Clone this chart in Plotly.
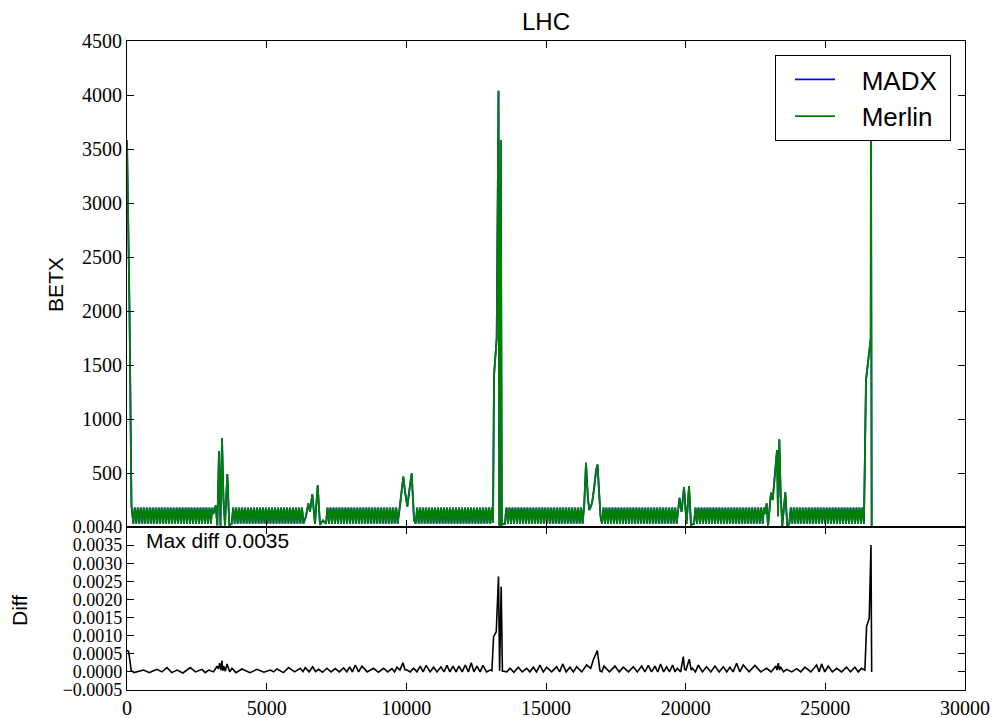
import plotly.graph_objects as go
from plotly.subplots import make_subplots

# ---------------- data ----------------
# FODO arc cell: betx values sampled at quarter-cell positions (QD, mid, QF, mid)
cell_length = 106.9
arc_cell_betx = [30, 120, 180, 120]
# arc extents (s start, s end) in metres
arc_starts = [226, 3748, 7124, 10335, 13532, 17005, 20299, 23710]
arc_ends = [3090, 6337, 9702, 13067, 16371, 19690, 22840, 26395]

# insertion regions: key points (s, betx)
ir1_start_s = [0, 90, 160, 200]
ir1_start_b = [3580, 2000, 200, 40]
ir2_s = [3175, 3233, 3294, 3347, 3401, 3455, 3508, 3591, 3662]
ir2_b = [199, 15, 704, 10, 821, 250, 15, 490, 15]
ir3_s = [6408, 6491, 6551, 6634, 6730, 6827, 6909, 7017]
ir3_b = [100, 219, 142, 305, 28, 386, 20, 60]
ir4_s = [9773, 9834, 9892, 9953, 10035, 10114, 10192, 10239, 10275]
ir4_b = [200, 330, 466, 330, 188, 350, 497, 250, 65]
ir5_s = [13103, 13139, 13235, 13300, 13328, 13353, 13382, 13418, 13497]
ir5_b = [40, 1400, 1750, 4040, 20, 20, 3580, 20, 30]
ir6_s = [16432, 16504, 16557, 16647, 16719, 16790, 16844, 16898, 16951]
ir6_b = [595, 250, 157, 220, 350, 520, 578, 350, 100]
ir7_s = [19780, 19852, 19941, 20031, 20120, 20191]
ir7_b = [270, 140, 370, 28, 380, 20]
ir8_s = [22901, 22948, 23055, 23116, 23270, 23306, 23352, 23402, 23459, 23566, 23638]
ir8_b = [219, 5, 318, 250, 713, 100, 812, 296, 10, 324, 10]
ir1_end_s = [26456, 26625, 26634, 26659]
ir1_end_b = [1360, 1750, 4040, 1]

# difference MADX - Merlin
diff_s = [0, 60, 150, 250, 400, 597, 800, 1074, 1250, 1432, 1600, 1790, 2000, 2267, 2450, 2685,
          2800, 2923, 3100, 3221, 3270, 3317, 3360, 3400, 3430, 3460, 3520, 3580, 3680, 3758, 3900,
          4116, 4400, 4653, 4900, 5130, 5250, 5369, 5600, 5786, 6000, 6204, 6300, 6383, 6520, 6645,
          6750, 6860, 7000, 7158, 7300, 7456, 7600, 7755, 7870, 7970, 8070, 8172, 8290, 8411, 8600,
          8828, 9000, 9187, 9330, 9485, 9580, 9664, 9770, 9878, 9950, 10021, 10140, 10260, 10380,
          10498, 10600, 10713, 10850, 10976, 11100, 11238, 11350, 11453, 11560, 11668, 11780, 11883,
          12000, 12109, 12220, 12324, 12420, 12527, 12640, 12742, 12870, 13004, 13063, 13123, 13219,
          13300, 13339, 13395, 13440, 13600, 13711, 13850, 14009, 14150, 14308, 14420, 14546, 14660,
          14785, 14900, 15023, 15200, 15381, 15490, 15596, 15720, 15858, 15980, 16097, 16280, 16455,
          16600, 16693, 16837, 16932, 17000, 17075, 17270, 17469, 17620, 17767, 17950, 18125, 18270,
          18423, 18540, 18662, 18780, 18900, 19000, 19103, 19210, 19318, 19420, 19533, 19620, 19700,
          19820, 19915, 19960, 20010, 20129, 20200, 20248, 20350, 20451, 20600, 20749, 20900, 21048,
          21200, 21346, 21470, 21585, 21700, 21824, 21940, 22062, 22270, 22480, 22690, 22898, 23060,
          23231, 23270, 23315, 23360, 23399, 23500, 23614, 23800, 23971, 24120, 24269, 24480, 24687,
          24780, 24866, 24980, 25105, 25250, 25403, 25580, 25761, 25900, 26059, 26180, 26297, 26416,
          26476, 26571, 26634, 26659]
diff_v = [0.0006, 0.00056, 0.00004, -0.00002, 0.00001, 0.00005, -0.00002, 0.00007, 0.0, 0.00012,
          -0.00002, 0.00005, -0.00003, 0.00012, 0.0, 0.00007, -0.00002, 0.00005, 0.0, 0.00016,
          0.00008, 0.00024, 0.00005, 0.00031, 0.00003, 0.00016, 0.00002, 0.00022, 0.0, 0.0001,
          -0.00002, 0.00008, -0.00002, 0.00007, -0.00001, 0.00005, 0.0, 0.00008, -0.00002, 0.00012,
          0.0, 0.0001, 0.00001, 0.00012, 0.0, 0.00014, 0.00001, 0.00007, -0.00001, 0.0001, 0.0,
          0.00009, 0.0, 0.00011, 0.0, 0.00014, 0.0, 0.00019, 0.0, 0.00016, 0.0, 0.0001, -0.00001,
          0.0001, 0.0, 0.00009, 0.0, 0.00013, 0.00005, 0.00025, 0.00006, 0.00005, 0.0, 0.0001, 0.0,
          0.00016, 0.0, 0.00018, 0.0, 0.00013, 0.0, 0.00014, 0.0, 0.00018, 0.0, 0.00016, 0.0,
          0.00016, 0.0, 0.00019, 0.0, 0.00025, 0.0, 0.00016, 0.0, 0.00018, 0.0, 0.00005, 0.00003,
          0.00097, 0.00111, 0.00263, 0.00003, 0.00235, 0.00002, 0.0, 0.0001, -0.00001, 0.00013, 0.0,
          0.0001, 0.0, 0.00013, 0.0, 0.00019, 0.0, 0.00013, 0.0, 0.00014, 0.0, 0.00022, 0.0,
          0.00013, 0.0, 0.00014, 0.0, 0.00019, 0.0001, 0.00033, 0.00059, 0.00003, 0.0, 0.00016, 0.0,
          0.00016, 0.0, 0.00013, 0.0, 0.00014, 0.0, 0.00016, 0.0, 0.00018, 0.0, 0.00016, 0.0,
          0.00022, 0.0, 0.00014, 0.0, 0.00019, 0.0, 0.0001, 0.0, 0.00042, 0.00008, 0.00005,
          0.00035, 0.00005, 0.0001, 0.0, 0.00019, 0.0, 0.00014, 0.0, 0.00016, 0.0, 0.00014, 0.0,
          0.00013, 0.0, 0.00024, 0.0, 0.00019, 0.0, 0.00018, 0.0, 0.0001, 0.0, 0.00016, 0.00005,
          0.00024, 0.00005, 0.00014, 0.0, 0.00007, 0.0, 0.00009, 0.0, 0.00013, 0.0, 0.00019, 0.0,
          0.00022, 0.0, 0.00016, 0.0, 0.0001, 0.0, 0.00013, 0.0, 0.00013, 0.0, 0.0001, 0.00005,
          0.00125, 0.00148, 0.0035, 0.0]

y1_ticks = [500, 1000, 1500, 2000, 2500, 3000, 3500, 4000, 4500]
y2_ticks = [-0.0005, 0.0, 0.0005, 0.0010, 0.0015, 0.0020, 0.0025, 0.0030, 0.0035, 0.0040]
y2_labels = ["\u22120.0005", "0.0000", "0.0005", "0.0010", "0.0015", "0.0020",
             "0.0025", "0.0030", "0.0035", "0.0040"]
x_ticks = [0, 5000, 10000, 15000, 20000, 25000, 30000]

# ---------------- assemble the optics along s ----------------
irs = [(ir2_s, ir2_b), (ir3_s, ir3_b), (ir4_s, ir4_b), (ir5_s, ir5_b),
       (ir6_s, ir6_b), (ir7_s, ir7_b), (ir8_s, ir8_b), (ir1_end_s, ir1_end_b)]
s_all = list(ir1_start_s)
b_all = list(ir1_start_b)
step = cell_length / 4
for i, (a0, a1) in enumerate(zip(arc_starts, arc_ends)):
    k = 0
    while a0 + k * step <= a1:
        s_all.append(a0 + k * step)
        b_all.append(arc_cell_betx[k % 4])
        k += 1
    s_all.extend(irs[i][0])
    b_all.extend(irs[i][1])

# ---------------- figure ----------------
fig = make_subplots(rows=2, cols=1, shared_xaxes=True, vertical_spacing=0,
                    row_heights=[486, 163])
fig.add_trace(go.Scatter(x=s_all, y=b_all, mode="lines", name="\u00a0\u00a0\u00a0MADX\u00a0",
                         line=dict(color="#0000ff", width=1.8)), row=1, col=1)
fig.add_trace(go.Scatter(x=s_all, y=b_all, mode="lines", name="\u00a0\u00a0\u00a0Merlin\u00a0",
                         line=dict(color="#008000", width=1.8)), row=1, col=1)
fig.add_trace(go.Scatter(x=diff_s, y=diff_v, mode="lines", showlegend=False,
                         line=dict(color="black", width=1.6)), row=2, col=1)

tickfont = dict(family="Liberation Serif", size=20, color="black")
axis_common = dict(showline=True, linecolor="black", linewidth=1.2, mirror="allticks",
                   ticks="inside", ticklen=7, tickcolor="black", tickwidth=1,
                   showgrid=False, zeroline=False, automargin=False)

fig.update_xaxes(range=[0, 30000], tickvals=x_ticks, tickfont=tickfont, **axis_common)
fig.update_xaxes(showticklabels=False, row=1, col=1)
fig.update_xaxes(ticktext=[str(v) for v in x_ticks], row=2, col=1)
fig.update_yaxes(range=[0, 4500], tickvals=y1_ticks, ticktext=[str(v) for v in y1_ticks],
                 tickfont=tickfont, row=1, col=1, **axis_common)
fig.update_yaxes(range=[-0.0005, 0.0040], tickvals=y2_ticks, ticktext=y2_labels,
                 tickfont=dict(family="Liberation Serif", size=18, color="black"),
                 row=2, col=1, **axis_common)

sans = "Liberation Sans, Arial, sans-serif"
fig.update_layout(
    width=993, height=718,
    margin=dict(l=127, r=28, t=41, b=28, autoexpand=False),
    paper_bgcolor="white", plot_bgcolor="white",
    showlegend=True,
    legend=dict(x=0.9833, y=0.9784, xanchor="right", yanchor="top",
                bgcolor="white", bordercolor="black", borderwidth=1,
                font=dict(family=sans, size=26, color="black"),
                itemwidth=40, tracegroupgap=0, indentation=14),
    annotations=[
        dict(text="LHC", x=0.5, y=1.0308, xref="paper", yref="paper",
             xanchor="center", yanchor="middle", showarrow=False,
             font=dict(family=sans, size=24, color="black")),
        dict(text="BETX", x=-0.0859, y=0.624, xref="paper", yref="paper",
             xanchor="center", yanchor="middle", showarrow=False, textangle=-90,
             font=dict(family=sans, size=21, color="black")),
        dict(text="Diff", x=-0.1277, y=0.1233, xref="paper", yref="paper",
             xanchor="center", yanchor="middle", showarrow=False, textangle=-90,
             font=dict(family=sans, size=21, color="black")),
        dict(text="Max diff 0.0035", x=0.0203, y=0.2311, xref="paper", yref="paper",
             xanchor="left", yanchor="middle", showarrow=False,
             font=dict(family=sans, size=21, color="black")),
    ],
)

fig.write_html("out.html")
